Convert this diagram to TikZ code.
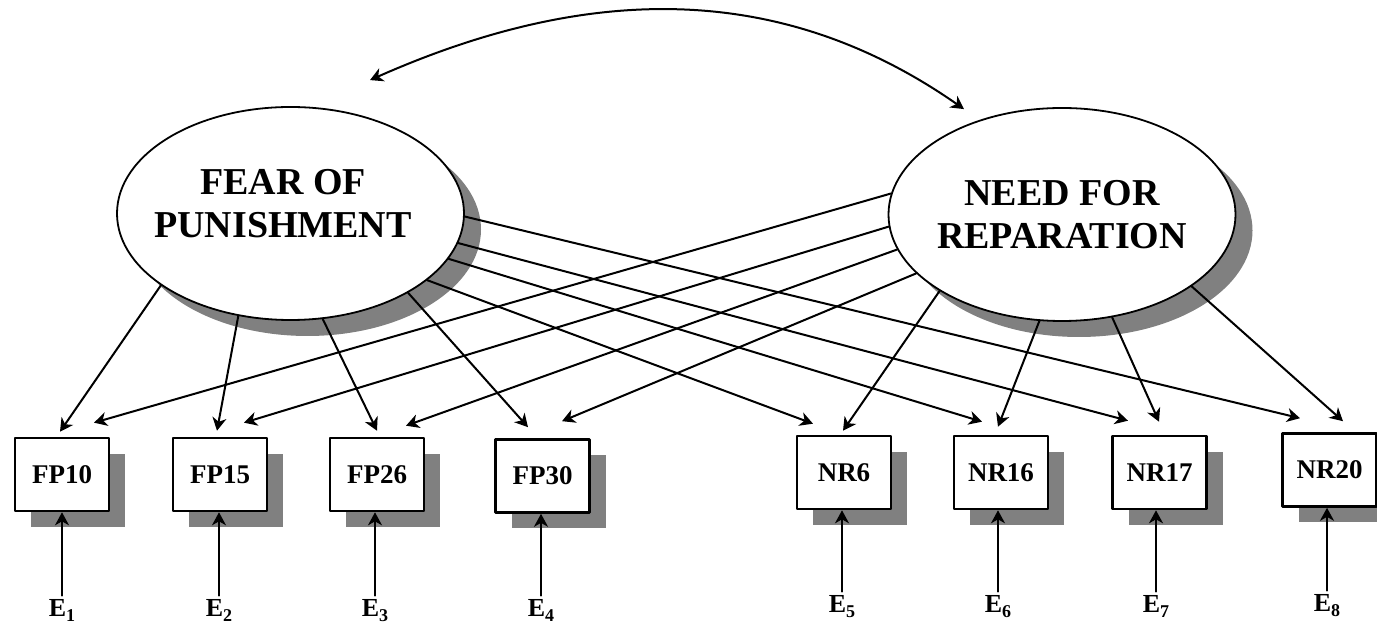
\documentclass[tikz,border=0pt]{standalone}
\usepackage{fontspec}
\setmainfont{Liberation Serif}
\usetikzlibrary{arrows.meta,shapes.geometric,shadows}
\newcommand{\esub}[1]{E\raisebox{-2.5pt}{\fontsize{9}{10}\selectfont #1}}
\tikzset{
  lv/.style={ellipse,draw,line width=0.9pt,fill=white,minimum width=173.5pt,
             minimum height=106.5pt,inner sep=0pt,
             drop shadow={shadow xshift=8.5pt,shadow yshift=-8pt,fill=black!50,opacity=1}},
  lt/.style={font=\bfseries\fontsize{19}{21.5}\selectfont,align=center,inner sep=0pt},
  ov/.style={rectangle,draw,line width=1.3pt,fill=white,minimum width=47pt,
             minimum height=36.5pt,inner sep=0pt,font=\bfseries\fontsize{13.5}{16}\selectfont,
             drop shadow={shadow xshift=8pt,shadow yshift=-8pt,fill=black!50,opacity=1}},
  ev/.style={font=\bfseries\fontsize{13}{15}\selectfont,inner sep=2pt,anchor=base},
  ar/.style={line width=1pt,-{Stealth[length=6.5pt,width=7pt,inset=2pt]}},
  corr/.style={line width=1pt,{Stealth[length=6.5pt,width=7pt,inset=2pt]}-{Stealth[length=6.5pt,width=7pt,inset=2pt]}},
  every picture/.style={line cap=round,line join=round}}

\begin{document}
\begin{tikzpicture}[x=0.5pt,y=-0.5pt]
  \useasboundingbox (0,0) rectangle (1377,624);
  % factors
  \node[lv,label={[lt,xshift=-3.75pt,yshift=4.75pt]center:FEAR OF\\PUNISHMENT}] (fp) at (290.5,213.5){};
  \node[lv,label={[lt]center:NEED FOR\\REPARATION}] (nr) at (1062,214.5){};
  \draw[corr] ([xshift=39.75pt,yshift=13pt]fp.north) .. controls +(210,-93) and +(-189,-132) .. ([xshift=-49pt,yshift=-1pt]nr.north);
  % items
  \node[ov] (fp10) at (62,474.5){FP10};\node[ov] (fp15) at (220,474.5){FP15};
  \node[ov] (fp26) at (377,474.5){FP26};\node[ov] (fp30) at (542.5,476){FP30};
  \node[ov] (nr6) at (844,472.5){NR6};\node[ov] (nr16) at (1001,472.5){NR16};
  \node[ov] (nr17) at (1159.5,472.5){NR17};\node[ov] (nr20) at (1329.5,470){NR20};
  % loadings
  \draw[ar] (fp.209)--([xshift=-1pt,yshift=2.5pt]fp10.north);
  \draw[ar] (fp.243)--([xshift=-1.5pt,yshift=3pt]fp15.north);
  \draw[ar] (fp.287)--([yshift=3pt]fp26.north);
  \draw[ar] (fp.326)--([xshift=-7.25pt,yshift=5.5pt]fp30.north);
  \draw[ar] (fp.334)--([xshift=-15.5pt,yshift=5.5pt]nr6.north);
  \draw[ar] (fp.344)--([xshift=-9.5pt,yshift=6.5pt]nr16.north);
  \draw[ar] (fp.350)--([xshift=-15.75pt,yshift=7pt]nr17.north);
  \draw[ar] (fp.359)--([xshift=-14.75pt,yshift=7pt]nr20.north);
  \draw[ar] (nr.173)--([xshift=16pt,yshift=7pt]fp10.north);
  \draw[ar] (nr.184)--([xshift=12pt,yshift=7pt]fp15.north);
  \draw[ar] (nr.192)--([xshift=14.5pt,yshift=5.5pt]fp26.north);
  \draw[ar] (nr.202)--([xshift=9.75pt,yshift=8.5pt]fp30.north);
  \draw[ar] (nr.212)--([xshift=-0.5pt,yshift=2pt]nr6.north);
  \draw[ar] (nr.258)--([xshift=-1.5pt,yshift=4pt]nr16.north);
  \draw[ar] (nr.296)--([xshift=-0.25pt,yshift=6.5pt]nr17.north);
  \draw[ar] (nr.331)--([xshift=6.75pt,yshift=5.5pt]nr20.north);
  % errors
  \node[ev] (e1) at (62,617){\esub{1}};\node[ev] (e2) at (219,617){\esub{2}};
  \node[ev] (e3) at (375,617){\esub{3}};\node[ev] (e4) at (541,617){\esub{4}};
  \node[ev] (e5) at (842,613){\esub{5}};\node[ev] (e6) at (998,613){\esub{6}};
  \node[ev] (e7) at (1156,613){\esub{7}};\node[ev] (e8) at (1327,612){\esub{8}};
  \draw[ar] (e1)--(e1|-fp10.south);\draw[ar] (e2)--(e2|-fp15.south);
  \draw[ar] (e3)--(e3|-fp26.south);\draw[ar] (e4)--(e4|-fp30.south);
  \draw[ar] (e5)--(e5|-nr6.south);\draw[ar] (e6)--(e6|-nr16.south);
  \draw[ar] (e7)--(e7|-nr17.south);\draw[ar] (e8)--(e8|-nr20.south);
\end{tikzpicture}
\end{document}
